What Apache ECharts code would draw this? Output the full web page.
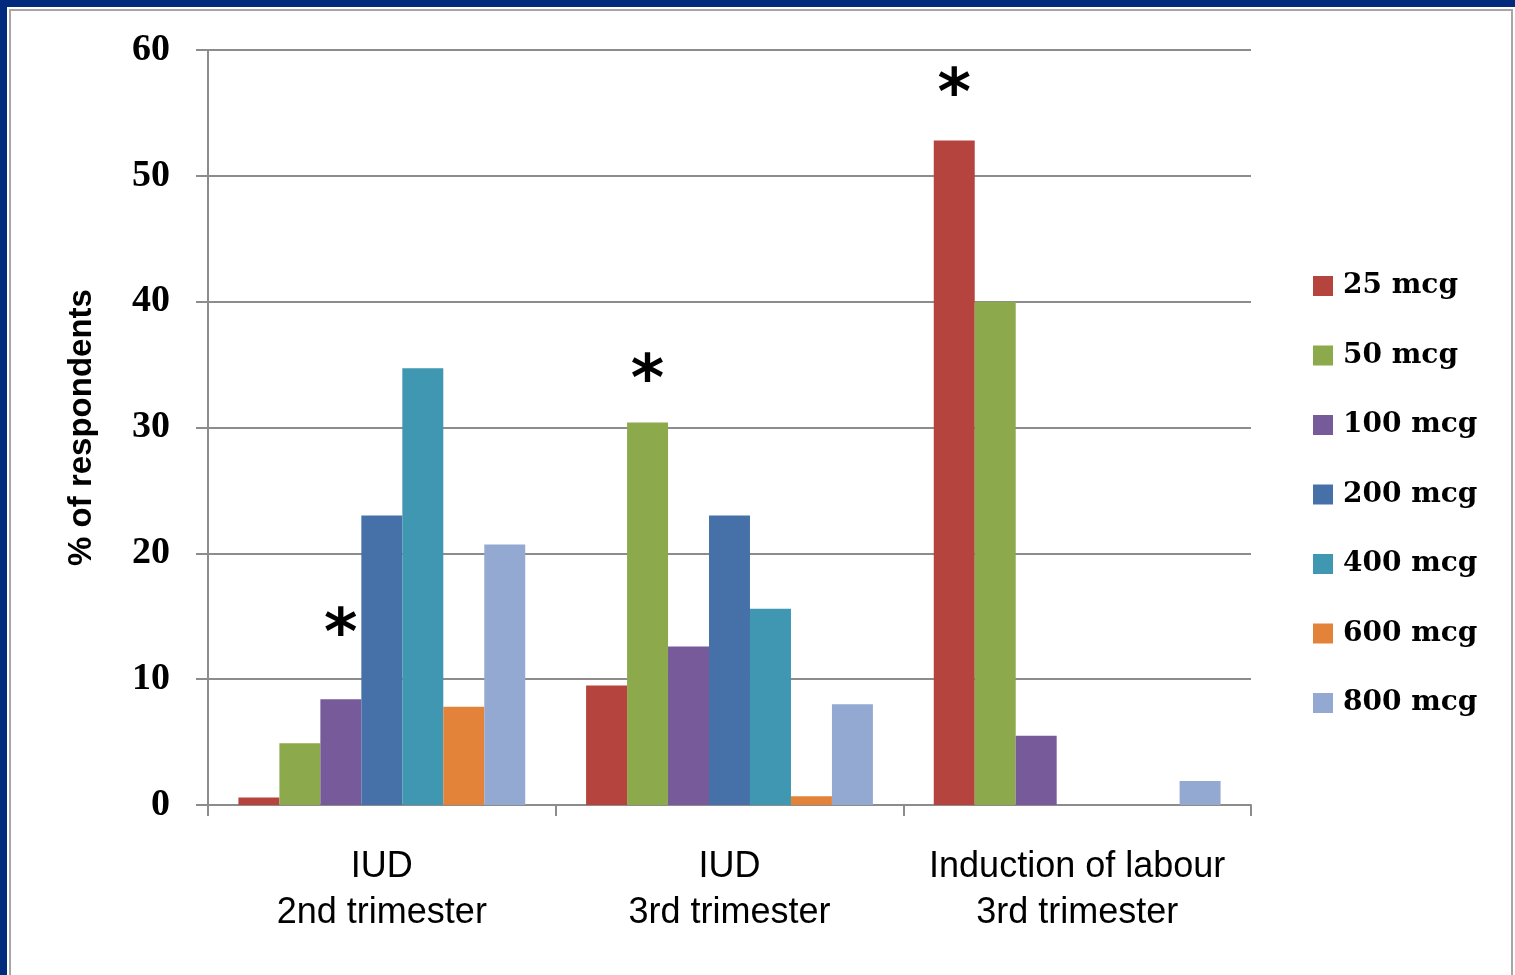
<!DOCTYPE html>
<html>
<head>
<meta charset="utf-8">
<script src="https://cdn.jsdelivr.net/npm/echarts@6/dist/echarts.min.js"></script>
<style>
  html, body { margin: 0; padding: 0; background: #ffffff; }
  #chart { width: 1515px; height: 975px; }
</style>
</head>
<body>
<div id="chart"></div>
<script>
// Misoprostol dose used, by indication (% of respondents)
const categories = ['IUD\n2nd trimester', 'IUD\n3rd trimester', 'Induction of labour\n3rd trimester'];
const doses = ['25 mcg', '50 mcg', '100 mcg', '200 mcg', '400 mcg', '600 mcg', '800 mcg'];

const mcg25  = [0.6, 9.5, 52.8];
const mcg50  = [4.9, 30.4, 40.0];
const mcg100 = [8.4, 12.6, 5.5];
const mcg200 = [23.0, 23.0, 0];
const mcg400 = [34.7, 15.6, 0];
const mcg600 = [7.8, 0.7, 0];
const mcg800 = [20.7, 8.0, 1.9];

const yTicks = [0, 10, 20, 30, 40, 50, 60];

// Most frequently used dose per indication: [dose index, category index]
const starred = [[2, 0], [1, 1], [0, 2]];

const seriesValues = [mcg25, mcg50, mcg100, mcg200, mcg400, mcg600, mcg800];
const colors = ['#b5443f', '#8ca94b', '#765a99', '#4571a8', '#3f97b1', '#e3833a', '#93a9d2'];

// gap between the bar top and the asterisk, per starred bar
const starGap = { '2-0': 30, '1-1': 7, '0-2': 11 };

const chart = echarts.init(document.getElementById('chart'), null, { renderer: 'canvas' });

const series = doses.map((name, s) => ({
  name,
  type: 'bar',
  barGap: '0%',
  barCategoryGap: '17.5%',
  itemStyle: { color: colors[s] },
  data: seriesValues[s].map((v, c) => {
    const isStar = starred.some(([si, ci]) => si === s && ci === c);
    if (!isStar) return v;
    return {
      value: v,
      label: {
        show: true,
        position: 'top',
        distance: starGap[s + '-' + c],
        formatter: '*',
        fontFamily: 'DejaVu Sans',
        fontWeight: 'bold',
        fontSize: 64,
        lineHeight: 64,
        color: '#000'
      }
    };
  })
}));

chart.setOption({
  animation: false,
  backgroundColor: '#ffffff',
  graphic: [
    { type: 'rect', shape: { x: 0, y: 0, width: 1515, height: 7 }, style: { fill: '#012a7c' }, z: 100 },
    { type: 'rect', shape: { x: 0, y: 0, width: 7, height: 975 }, style: { fill: '#012a7c' }, z: 100 },
    { type: 'rect', shape: { x: 10, y: 10, width: 1502, height: 975 }, style: { fill: 'none', stroke: '#a6a6a6', lineWidth: 2 }, z: 100 }
  ],
  grid: { left: 208, right: 264, top: 50, bottom: 170, containLabel: false },
  legend: {
    orient: 'vertical',
    left: 1308,
    top: 266,
    icon: 'rect',
    itemWidth: 20,
    itemHeight: 20,
    itemGap: 39.5,
    data: doses,
    textStyle: { fontFamily: 'DejaVu Serif', fontWeight: 'bold', fontSize: 28, lineHeight: 30, color: '#000', padding: [0, 0, 0, 5] }
  },
  xAxis: {
    type: 'category',
    data: categories,
    axisLine: { lineStyle: { color: '#8c8c8c', width: 2 } },
    axisTick: { show: true, interval: 0, length: 11, lineStyle: { color: '#8c8c8c', width: 2 } },
    axisLabel: {
      interval: 0,
      margin: 39,
      fontFamily: 'Liberation Sans',
      fontSize: 36,
      lineHeight: 46,
      color: '#000'
    }
  },
  yAxis: {
    type: 'value',
    min: yTicks[0],
    max: yTicks[yTicks.length - 1],
    interval: 10,
    name: '% of respondents',
    nameLocation: 'middle',
    nameRotate: 90,
    nameGap: 110,
    nameTextStyle: { fontFamily: 'Liberation Sans', fontWeight: 'bold', fontSize: 33, color: '#000' },
    axisLine: { show: true, lineStyle: { color: '#8c8c8c', width: 2 } },
    axisTick: { show: true, length: 12, lineStyle: { color: '#8c8c8c', width: 2 } },
    splitLine: { lineStyle: { color: '#8c8c8c', width: 2 } },
    axisLabel: {
      margin: 38,
      fontFamily: 'Liberation Serif',
      fontWeight: 'bold',
      fontSize: 38,
      color: '#000'
    }
  },
  series
});
</script>
</body>
</html>
